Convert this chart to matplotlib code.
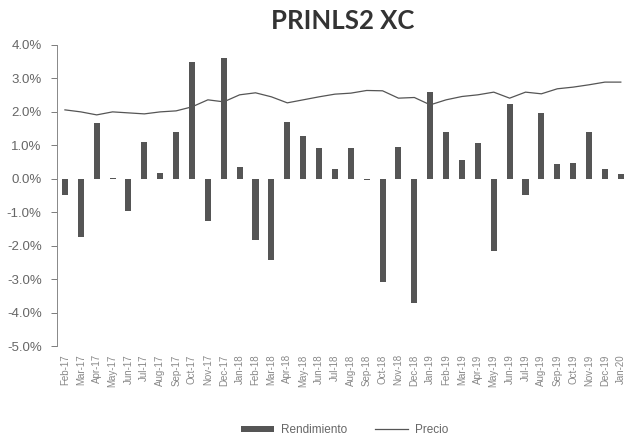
import matplotlib.pyplot as plt
from matplotlib.patches import Patch
from matplotlib.lines import Line2D

months = ["Feb-17", "Mar-17", "Apr-17", "May-17", "Jun-17", "Jul-17", "Aug-17", "Sep-17",
          "Oct-17", "Nov-17", "Dec-17", "Jan-18", "Feb-18", "Mar-18", "Apr-18", "May-18",
          "Jun-18", "Jul-18", "Aug-18", "Sep-18", "Oct-18", "Nov-18", "Dec-18", "Jan-19",
          "Feb-19", "Mar-19", "Apr-19", "May-19", "Jun-19", "Jul-19", "Aug-19", "Sep-19",
          "Oct-19", "Nov-19", "Dec-19", "Jan-20"]

# monthly return, %
rendimiento = [-0.50, -1.75, 1.67, 0.03, -0.95, 1.10, 0.17, 1.41,
               3.50, -1.25, 3.62, 0.35, -1.82, -2.42, 1.69, 1.28,
               0.93, 0.29, 0.93, -0.03, -3.10, 0.95, -3.71, 2.59,
               1.39, 0.55, 1.08, -2.15, 2.24, -0.50, 1.96, 0.44,
               0.47, 1.39, 0.30, 0.15]

# price line (secondary scale)
precio = [2.06, 2.00, 1.91, 2.00, 1.97, 1.94, 2.00, 2.03,
          2.15, 2.36, 2.30, 2.51, 2.57, 2.45, 2.27, 2.36,
          2.45, 2.53, 2.56, 2.64, 2.63, 2.41, 2.43, 2.21,
          2.36, 2.46, 2.51, 2.59, 2.41, 2.59, 2.54, 2.69,
          2.74, 2.81, 2.89, 2.89]

yticks = [4, 3, 2, 1, 0, -1, -2, -3, -4, -5]

grey = "#666666"
bar_col = "#555555"

fig = plt.figure(figsize=(6.29, 4.41), dpi=100)
ax = fig.add_axes([0.0906, 0.2154, 0.909, 0.6826])

x = list(range(len(months)))
ax.bar(x, rendimiento, width=0.38, color=bar_col, zorder=2)
ax.set_xlim(-0.5, len(months) - 0.5)
ax.set_ylim(-5, 4)
ax.set_yticks(yticks)
ax.set_yticklabels([f"{v:.1f}%" for v in yticks], fontsize=9.5, color=grey, family="Liberation Sans")
ax.set_xticks(x)
ax.set_xticklabels(months, rotation=90, fontsize=7, color="#888888", family="Liberation Sans")
ax.tick_params(axis="x", length=0, pad=6)
ax.tick_params(axis="y", length=4, color=grey, width=0.6, pad=7)
for s in ["top", "right", "bottom"]:
    ax.spines[s].set_visible(False)
ax.spines["left"].set_color("#888888")
ax.spines["left"].set_linewidth(0.7)

ax2 = ax.twinx()
ax2.plot(x, precio, color="#555555", linewidth=0.9, zorder=3)
ax2.set_ylim(-5, 4)
ax2.axis("off")

fig.suptitle("PRINLS2 XC", x=0.545, y=0.98, fontsize=18.5, fontweight="bold",
             family="Lato", color="#333333")

handles = [Patch(facecolor=bar_col, label="Rendimiento"),
           Line2D([], [], color="#555555", linewidth=0.9, label="Precio")]
fig.legend(handles=handles, loc="center", bbox_to_anchor=(0.548, 0.025), ncol=2,
           frameon=False, handlelength=2.8, handleheight=0.4,
           handletextpad=0.6, columnspacing=2.4, labelcolor=grey,
           prop={"family": "Liberation Sans", "size": 8.5})

fig.savefig("out.png", dpi=100)
